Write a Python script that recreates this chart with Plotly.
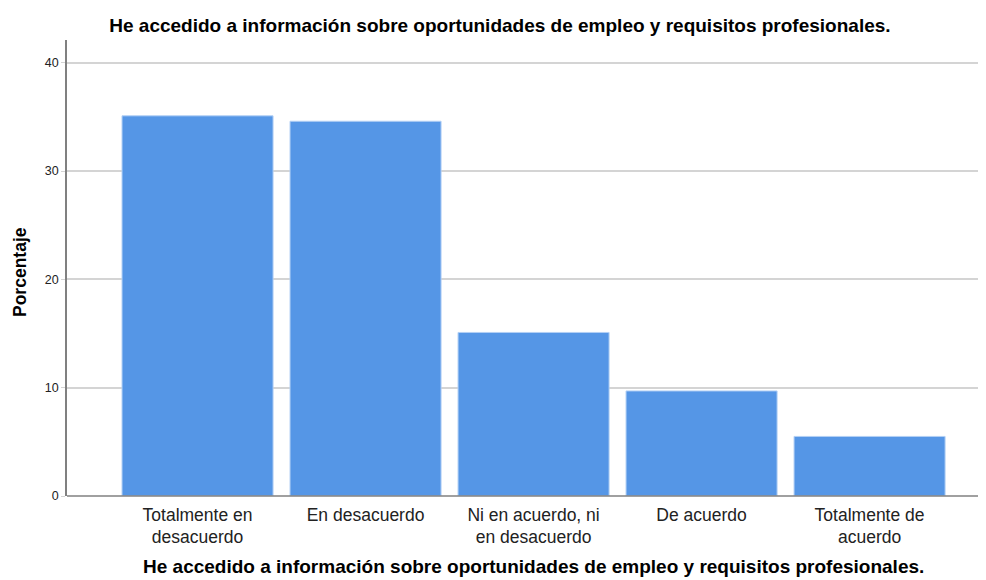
import plotly.graph_objects as go

categories = ["Totalmente en<br>desacuerdo", "En desacuerdo", "Ni en acuerdo, ni<br>en desacuerdo",
              "De acuerdo", "Totalmente de<br>acuerdo"]
percentages = [35.1, 34.6, 15.1, 9.7, 5.5]
y_ticks = [0, 10, 20, 30, 40]

title_text = "He accedido a información sobre oportunidades de empleo y requisitos profesionales."
font_family = "Liberation Sans, Arial, sans-serif"

# page offset of 8px (browser body margin) accounted for in margins
plot_left, plot_right, plot_top, plot_bottom = 67, 986, 40, 496
pw = plot_right - plot_left
ph = plot_bottom - plot_top

fig = go.Figure()
fig.add_trace(go.Bar(
    x=list(range(len(categories))), y=percentages,
    marker=dict(color="#5596e6", line=dict(color="#b3d0f5", width=1)),
    hoverinfo="skip",
))

fig.update_layout(
    width=978, height=572,
    margin=dict(l=59, r=0, t=32, b=84),
    paper_bgcolor="white", plot_bgcolor="white",
    bargap=0.101,
    showlegend=False,
    font=dict(family=font_family, color="#222222"),
    title=dict(text="<b>" + title_text + "</b>", x=0.503, xanchor="center",
               y=0.9696, yanchor="middle",
               font=dict(size=19, color="#000000", family=font_family)),
    xaxis=dict(
        range=[-0.777, 4.693], tickmode="array",
        tickvals=list(range(len(categories))), ticktext=categories,
        tickfont=dict(size=17.5, color="#222222"),
        showgrid=False, zeroline=False,
        showline=False, ticks="", ticklabelstandoff=6,
    ),
    yaxis=dict(
        range=[0, 42.1], tickvals=y_ticks,
        tickfont=dict(size=12.5, color="#222222"),
        showgrid=True, gridcolor="#d4d4d4", gridwidth=1.5,
        zeroline=False, showline=True, linecolor="#808080", linewidth=1.5,
        ticks="outside", ticklen=4, tickcolor="#d4d4d4",
    ),
    annotations=[
        dict(text="<b>" + title_text + "</b>", xref="paper", yref="paper",
             x=(533.5 - plot_left) / pw, y=-(566 - plot_bottom) / ph, xanchor="center", yanchor="middle",
             showarrow=False, font=dict(size=19, color="#000000", family=font_family)),
        dict(text="<b>Porcentaje</b>", xref="paper", yref="paper", textangle=-90,
             x=(20 - plot_left) / pw, y=(plot_bottom - 272) / ph, xanchor="center", yanchor="middle",
             showarrow=False, font=dict(size=17.5, color="#000000", family=font_family)),
    ],
    shapes=[dict(type="line", xref="paper", yref="paper", x0=0, x1=1, y0=0, y1=0,
                 line=dict(color="#808080", width=1.5))],
)

fig.write_html("out.html")
